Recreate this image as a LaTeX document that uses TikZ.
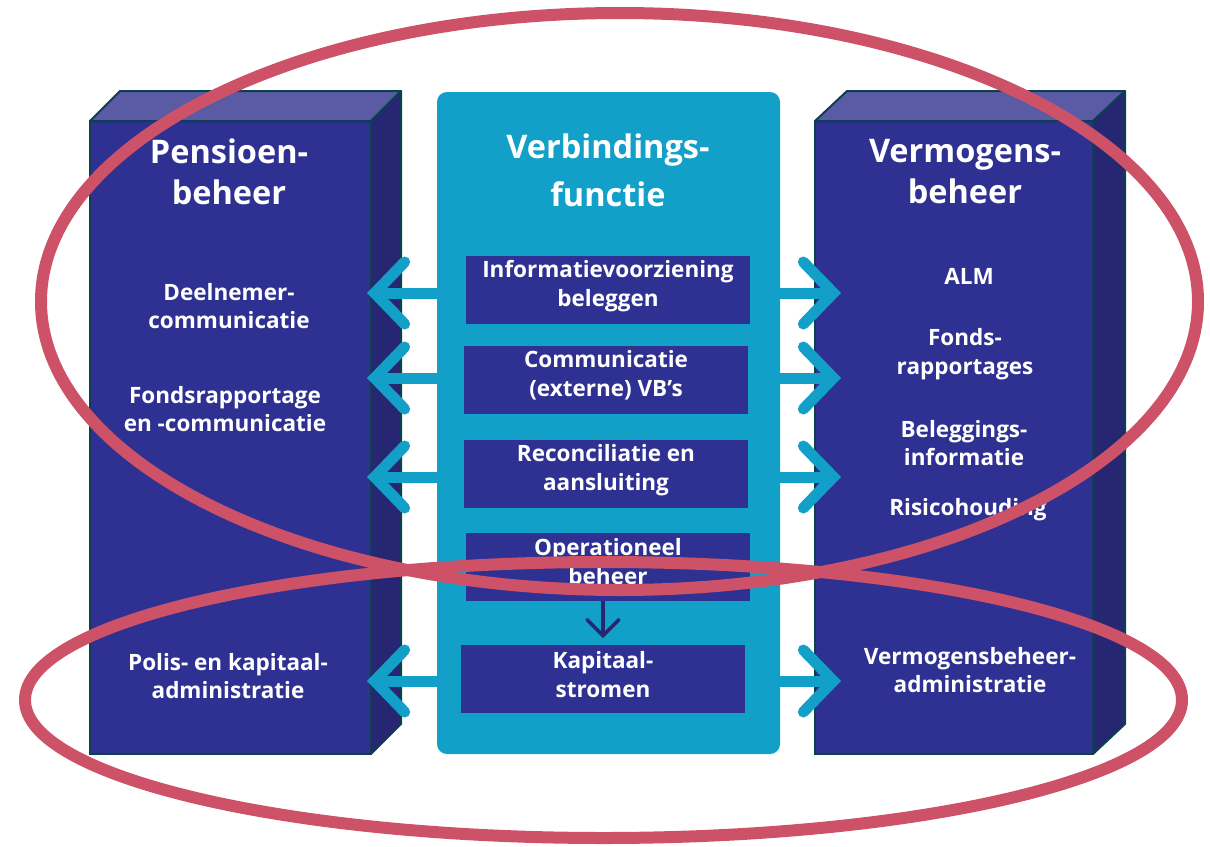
\documentclass[tikz,border=0pt]{standalone}
\usepackage{fontspec}
\setmainfont{Open Sans}
\usetikzlibrary{arrows.meta,calc}
\definecolor{navy}{HTML}{2E3192}
\definecolor{navytop}{HTML}{5A5AA5}
\definecolor{navyside}{HTML}{262672}
\definecolor{edgec}{HTML}{0C4050}
\definecolor{cyanc}{HTML}{12A0C8}
\definecolor{ringc}{HTML}{CD5268}
\definecolor{downc}{HTML}{262672}
\begin{document}
\begin{tikzpicture}[x=1pt,y=-1pt,
  front/.style={draw=edgec, line width=2pt, fill=navy, inner sep=0pt, outer sep=0pt},
  topface/.style={draw=edgec, line width=2pt, fill=navytop, line join=round},
  sideface/.style={draw=edgec, line width=2pt, fill=navyside, line join=round},
  midbox/.style={fill=cyanc, rounded corners=10pt, inner sep=0pt, outer sep=0pt},
  inbox/.style={fill=navy, inner sep=0pt, outer sep=0pt, minimum width=284pt, minimum height=68pt},
  intext/.style={text=white, align=center, font=\bfseries\fontsize{22.5}{29}\selectfont},
  title/.style={text=white, align=center, font=\bfseries\fontsize{32.5}{41}\selectfont},
  label/.style={text=white, align=center, font=\bfseries\fontsize{22.5}{28.5}\selectfont},
  cyanarr/.style={draw=cyanc, line width=11pt,
    -{Straight Barb[length=30pt,width=62pt,line cap=round,line join=miter]}},
  downarr/.style={draw=downc, line width=3.5pt,
    -{Straight Barb[length=16pt,width=32pt,line cap=round,line join=miter]}},
  ring/.style={draw=ringc, line width=12pt}
]
\useasboundingbox (0,0) rectangle (1210,846);

% left 3D box
\node[front, minimum width=281pt, minimum height=633pt] (pb) at (230.5,437.5) {};
\draw[topface] (pb.north west) -- ++(30,-30) -- ($(pb.north east)+(30,-30)$) -- (pb.north east) -- cycle;
\draw[sideface] (pb.north east) -- ++(30,-30) -- ($(pb.south east)+(30,-30)$) -- (pb.south east) -- cycle;

% right 3D box
\node[front, minimum width=278pt, minimum height=633pt] (vb) at (954,437.5) {};
\draw[topface] (vb.north west) -- ++(32,-30) -- ($(vb.north east)+(32,-30)$) -- (vb.north east) -- cycle;
\draw[sideface] (vb.north east) -- ++(32,-30) -- ($(vb.south east)+(32,-30)$) -- (vb.south east) -- cycle;

% middle box
\node[midbox, minimum width=343pt, minimum height=662pt] (vf) at (608.5,423) {};

% inner boxes
\node[inbox] (ib1) at (608,290) {};
\node[inbox] (ib2) at (606,379.5) {};
\node[inbox] (ib3) at (606,474) {};
\node[inbox] (ib4) at (608,567) {};
\node[inbox] (ib5) at (603,679) {};
\node[intext] (it1) at ($(ib1.center)+(0,-4)$) {Informatievoorziening\\beleggen};
\node[intext] (it2) at ($(ib2.center)+(0,-4)$) {Communicatie\\(externe) VB’s};
\node[intext] (it3) at ($(ib3.center)+(0,-4)$) {Reconciliatie en\\aansluiting};
\node[intext] (it4) at ($(ib4.center)+(0,-5)$) {Operationeel\\beheer};
\node[intext] (it5) at ($(ib5.center)+(0,-4)$) {Kapitaal-\\stromen};

\draw[downarr, shorten >=7pt] (ib4.south -| ib5.north) -- (ib5.north);

% titles
\node[title] (t1) at (229,172) {Pensioen-\\beheer};
\node[title, font=\bfseries\fontsize{32.5}{48}\selectfont] (t2) at (608,170) {Verbindings-\\functie};
\node[title] (t3) at (965,172) {Vermogens-\\beheer};

% left labels
\node[label] (l1) at (229,306) {Deelnemer-\\communicatie};
\node[label] (l2) at (225,409) {Fondsrapportage\\en -communicatie};
\node[label] (l3) at (228,676) {Polis- en kapitaal-\\administratie};

% right labels
\node[label] (r1) at (969,276) {ALM};
\node[label] (r2) at (965,354) {Fonds-\\rapportages};
\node[label] (r3) at (964,443) {Beleggings-\\informatie};
\node[label] (r4) at (968,510) {Risicohouding};
\node[label] (r5) at (970,670) {Vermogensbeheer-\\administratie};

% cyan arrows
\foreach \yy in {293,378,477,681}{
  \draw[cyanarr, shorten >=-4pt] (vf.west |- 0,\yy) -- (pb.east |- 0,\yy);
  \draw[cyanarr, shorten >=-26pt] (vf.east |- 0,\yy) -- (vb.west |- 0,\yy);
}

% rings
\draw[ring] (619.5,301.5) ellipse [x radius=578.5pt, y radius=288.5pt];
\draw[ring] (603.5,700) ellipse [x radius=578.5pt, y radius=138pt];
\end{tikzpicture}
\end{document}
